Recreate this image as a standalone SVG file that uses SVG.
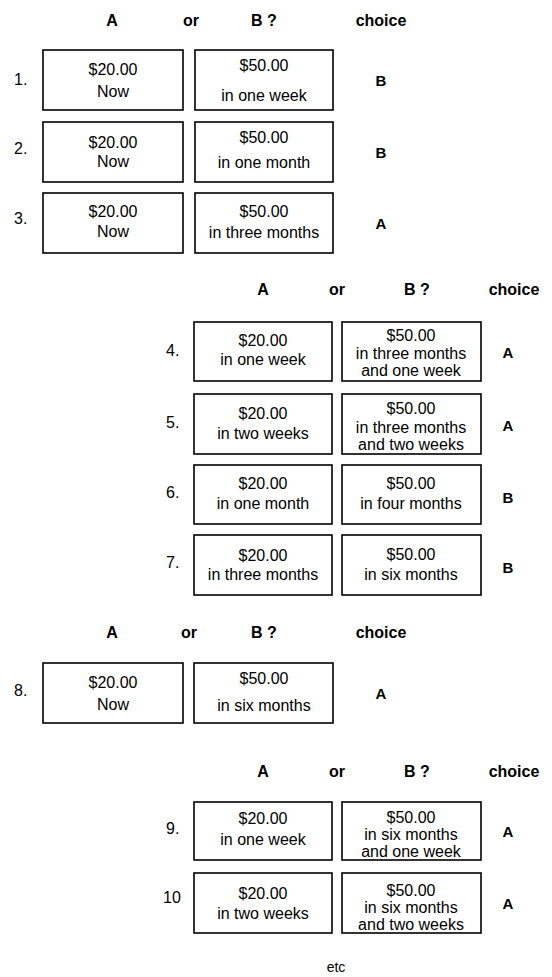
<svg xmlns="http://www.w3.org/2000/svg" width="552" height="977" viewBox="0 0 552 977">
<style>
  .bx { fill: #fff; stroke: #000; stroke-width: 1.6; }
  text { font-family: "Liberation Sans", Arial, sans-serif; fill: #000; }
  .t { font-size: 16px; text-anchor: middle; }
  .h { font-size: 16px; font-weight: bold; text-anchor: middle; }
  .c { font-size: 15px; font-weight: bold; text-anchor: middle; }
  .n { font-size: 16px; }
  .e { font-size: 14px; text-anchor: middle; }
</style>
<rect width="552" height="977" fill="#fff"/>

<g id="header1">
  <text class="h" x="112" y="26">A</text>
  <text class="h" x="191" y="26">or</text>
  <text class="h" x="264" y="26">B ?</text>
  <text class="h" x="381" y="26">choice</text>
</g>
<g id="row1">
  <text class="n" x="14" y="85">1.</text>
  <rect class="bx" x="43" y="50" width="140" height="60"/>
  <text class="t" x="113" y="75">$20.00</text>
  <text class="t" x="113" y="97">Now</text>
  <rect class="bx" x="195" y="50" width="138" height="60"/>
  <text class="t" x="264" y="71">$50.00</text>
  <text class="t" x="264" y="101">in one week</text>
  <text class="c" x="381" y="86">B</text>
</g>
<g id="row2">
  <text class="n" x="14" y="154">2.</text>
  <rect class="bx" x="43" y="122" width="140" height="60"/>
  <text class="t" x="113" y="148">$20.00</text>
  <text class="t" x="113" y="167">Now</text>
  <rect class="bx" x="195" y="122" width="138" height="60"/>
  <text class="t" x="264" y="143">$50.00</text>
  <text class="t" x="264" y="168">in one month</text>
  <text class="c" x="381" y="158">B</text>
</g>
<g id="row3">
  <text class="n" x="14" y="224">3.</text>
  <rect class="bx" x="43" y="193" width="140" height="60"/>
  <text class="t" x="113" y="217">$20.00</text>
  <text class="t" x="113" y="237">Now</text>
  <rect class="bx" x="195" y="193" width="138" height="60"/>
  <text class="t" x="264" y="217">$50.00</text>
  <text class="t" x="264" y="238">in three months</text>
  <text class="c" x="381" y="229">A</text>
</g>

<g id="header2">
  <text class="h" x="263" y="295">A</text>
  <text class="h" x="337" y="295">or</text>
  <text class="h" x="417" y="295">B ?</text>
  <text class="h" x="514" y="295">choice</text>
</g>
<g id="row4">
  <text class="n" x="166" y="356">4.</text>
  <rect class="bx" x="194" y="322" width="138" height="59"/>
  <text class="t" x="263" y="346">$20.00</text>
  <text class="t" x="263" y="365">in one week</text>
  <rect class="bx" x="342" y="322" width="139" height="59"/>
  <text class="t" x="411" y="341">$50.00</text>
  <text class="t" x="411" y="359">in three months</text>
  <text class="t" x="411" y="376">and one week</text>
  <text class="c" x="508" y="358">A</text>
</g>
<g id="row5">
  <text class="n" x="166" y="428">5.</text>
  <rect class="bx" x="194" y="394" width="138" height="60"/>
  <text class="t" x="263" y="419">$20.00</text>
  <text class="t" x="263" y="439">in two weeks</text>
  <rect class="bx" x="342" y="394" width="139" height="60"/>
  <text class="t" x="411" y="414">$50.00</text>
  <text class="t" x="411" y="433">in three months</text>
  <text class="t" x="411" y="450">and two weeks</text>
  <text class="c" x="508" y="431">A</text>
</g>
<g id="row6">
  <text class="n" x="166" y="498">6.</text>
  <rect class="bx" x="194" y="465" width="138" height="59"/>
  <text class="t" x="263" y="489">$20.00</text>
  <text class="t" x="263" y="509">in one month</text>
  <rect class="bx" x="342" y="465" width="139" height="59"/>
  <text class="t" x="411" y="489">$50.00</text>
  <text class="t" x="411" y="509">in four months</text>
  <text class="c" x="508" y="503">B</text>
</g>
<g id="row7">
  <text class="n" x="166" y="568">7.</text>
  <rect class="bx" x="194" y="535" width="138" height="60"/>
  <text class="t" x="263" y="561">$20.00</text>
  <text class="t" x="263" y="580">in three months</text>
  <rect class="bx" x="342" y="535" width="139" height="60"/>
  <text class="t" x="411" y="560">$50.00</text>
  <text class="t" x="411" y="580">in six months</text>
  <text class="c" x="508" y="573">B</text>
</g>

<g id="header3">
  <text class="h" x="112" y="638">A</text>
  <text class="h" x="189" y="638">or</text>
  <text class="h" x="264" y="638">B ?</text>
  <text class="h" x="381" y="638">choice</text>
</g>
<g id="row8">
  <text class="n" x="14" y="696">8.</text>
  <rect class="bx" x="43" y="663" width="140" height="60"/>
  <text class="t" x="113" y="688">$20.00</text>
  <text class="t" x="113" y="710">Now</text>
  <rect class="bx" x="194" y="663" width="139" height="60"/>
  <text class="t" x="264" y="684">$50.00</text>
  <text class="t" x="264" y="711">in six months</text>
  <text class="c" x="381" y="699">A</text>
</g>

<g id="header4">
  <text class="h" x="263" y="777">A</text>
  <text class="h" x="337" y="777">or</text>
  <text class="h" x="417" y="777">B ?</text>
  <text class="h" x="514" y="777">choice</text>
</g>
<g id="row9">
  <text class="n" x="166" y="834">9.</text>
  <rect class="bx" x="194" y="802" width="138" height="58"/>
  <text class="t" x="263" y="824">$20.00</text>
  <text class="t" x="263" y="845">in one week</text>
  <rect class="bx" x="342" y="802" width="139" height="58"/>
  <text class="t" x="411" y="823">$50.00</text>
  <text class="t" x="411" y="840">in six months</text>
  <text class="t" x="411" y="857">and one week</text>
  <text class="c" x="508" y="837">A</text>
</g>
<g id="row10">
  <text class="n" x="163" y="903">10</text>
  <rect class="bx" x="194" y="873" width="138" height="60"/>
  <text class="t" x="263" y="899">$20.00</text>
  <text class="t" x="263" y="919">in two weeks</text>
  <rect class="bx" x="342" y="873" width="139" height="60"/>
  <text class="t" x="411" y="896">$50.00</text>
  <text class="t" x="411" y="913">in six months</text>
  <text class="t" x="411" y="930">and two weeks</text>
  <text class="c" x="508" y="909">A</text>
</g>

<g id="connectors"></g>

<text class="e" x="336" y="972">etc</text>
</svg>
